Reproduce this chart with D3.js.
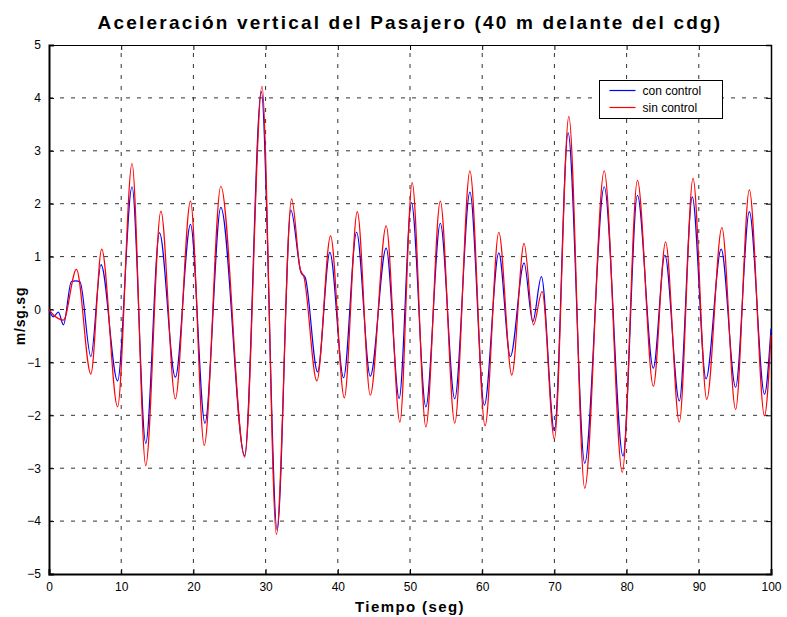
<!DOCTYPE html>
<html lang="es">
<head>
<meta charset="UTF-8">
<title>Aceleración vertical del Pasajero</title>
<script src="https://cdn.jsdelivr.net/npm/d3@7"></script>
<style>
  body { margin: 0; background: #fff; }
  text { font-family: "Liberation Sans", Arial, sans-serif; }
</style>
</head>
<body>
<div id="container"></div>
<script>
    const width = 787;
    const height = 617;
    const margin = { top: 45, left: 49, right: 16, bottom: 43 };

    // extremos: [tiempo (seg), aceleración (m/sg.sg)]
    const conControl = [
        [0, 0], [0.6, -0.14], [1.3, -0.05], [2.0, -0.29], [3.1, 0.53], [3.7, 0.54], [4.3, 0.52],
        [5.8, -0.89], [7.2, 0.85], [9.5, -1.35], [11.5, 2.32], [13.4, -2.53], [15.3, 1.45],
        [17.5, -1.28], [19.6, 1.61], [21.6, -2.15], [23.8, 1.93], [27.1, -2.76], [29.4, 4.12],
        [31.6, -4.17], [33.5, 1.88], [34.9, 0.7], [35.5, 0.6], [37.2, -1.18], [38.9, 1.08],
        [40.8, -1.29], [42.6, 1.46], [44.5, -1.26], [46.7, 1.16], [48.5, -1.68], [50.2, 2.02],
        [52.2, -1.84], [54.2, 1.63], [56.2, -1.69], [58.3, 2.22], [60.3, -1.81], [62.3, 1.07],
        [63.9, -0.89], [65.8, 0.88], [67.0, -0.23], [68.2, 0.62], [70.0, -2.29], [71.9, 3.34],
        [74.2, -2.91], [76.9, 2.32], [79.5, -2.77], [81.5, 2.16], [83.7, -1.11], [85.3, 1.03],
        [87.3, -1.73], [89.1, 2.13], [91.0, -1.31], [93.1, 1.14], [95.1, -1.47], [97.0, 1.85],
        [99.1, -1.60], [100, -0.36]
    ];
    const sinControl = [
        [0, 0], [0.6, -0.1], [2.0, -0.2], [3.8, 0.76], [5.8, -1.22], [7.3, 1.14], [9.5, -1.84],
        [11.5, 2.76], [13.4, -2.95], [15.5, 1.86], [17.5, -1.69], [19.6, 2.05], [21.5, -2.57],
        [23.8, 2.33], [27.1, -2.79], [29.5, 4.22], [31.5, -4.25], [33.6, 2.09], [34.8, 0.76],
        [35.3, 0.62], [37.1, -1.35], [39.0, 1.39], [40.9, -1.67], [42.7, 1.85], [44.5, -1.62],
        [46.7, 1.58], [48.6, -2.13], [50.3, 2.40], [52.2, -2.22], [54.2, 2.05], [56.2, -2.15],
        [58.3, 2.62], [60.4, -2.20], [62.3, 1.46], [64.1, -1.24], [65.8, 1.25], [67.1, -0.29],
        [68.3, 0.34], [70.0, -2.45], [72.0, 3.65], [74.2, -3.38], [76.9, 2.62], [79.4, -3.08],
        [81.5, 2.44], [83.7, -1.45], [85.4, 1.28], [87.3, -2.13], [89.2, 2.48], [91.1, -1.70],
        [93.2, 1.55], [95.1, -1.89], [97.0, 2.26], [99.1, -2.01], [100, -0.48]
    ];
    const xTicks = [0, 10, 20, 30, 40, 50, 60, 70, 80, 90, 100];
    const yTicks = [-5, -4, -3, -2, -1, 0, 1, 2, 3, 4, 5];
    const seriesNames = ['con control', 'sin control'];
    const seriesColors = ['#0000ff', '#ff0000'];

    const svg = d3.select('#container').append('svg')
        .attr('width', width)
        .attr('height', height);

    const x = d3.scaleLinear().domain([0, 100]).range([margin.left, width - margin.right]);
    const y = d3.scaleLinear().domain([-5, 5]).range([height - margin.bottom, margin.top]);

    // rejilla punteada
    svg.append('g')
        .selectAll('line')
        .data(yTicks.slice(1, -1))
        .join('line')
        .attr('x1', x(0)).attr('x2', x(100))
        .attr('y1', d => y(d)).attr('y2', d => y(d))
        .attr('stroke', '#333').attr('stroke-width', 1)
        .attr('stroke-dasharray', '4,7');
    svg.append('g')
        .selectAll('line')
        .data(xTicks.slice(1, -1))
        .join('line')
        .attr('y1', y(-5)).attr('y2', y(5))
        .attr('x1', d => x(d)).attr('x2', d => x(d))
        .attr('stroke', '#333').attr('stroke-width', 1)
        .attr('stroke-dasharray', '4,7');

    // ejes (ticks hacia dentro, estilo caja)
    const tick = 5;
    svg.append('g')
        .attr('transform', `translate(0,${y(-5)})`)
        .call(d3.axisBottom(x).tickValues(xTicks).tickSize(-tick).tickPadding(tick + 3))
        .call(g => g.select('.domain').attr('stroke-width', 2));
    svg.append('g')
        .attr('transform', `translate(0,${y(5)})`)
        .call(d3.axisTop(x).tickValues(xTicks).tickSize(-tick).tickFormat(''))
        .call(g => g.select('.domain').attr('stroke-width', 1));
    svg.append('g')
        .attr('transform', `translate(${x(0)},0)`)
        .call(d3.axisLeft(y).tickValues(yTicks).tickSize(-tick).tickPadding(tick + 3))
        .call(g => g.select('.domain').attr('stroke-width', 2));
    svg.append('g')
        .attr('transform', `translate(${x(100)},0)`)
        .call(d3.axisRight(y).tickValues(yTicks).tickSize(-tick).tickFormat(''))
        .call(g => g.select('.domain').attr('stroke-width', 1.5));

    svg.selectAll('.tick text')
        .attr('font-family', '"Liberation Sans", Arial, sans-serif')
        .attr('font-size', 12)
        .attr('fill', '#000');
    svg.selectAll('.domain').attr('stroke', '#000');

    // curvas
    const line = d3.line()
        .x(d => x(d[0]))
        .y(d => y(d[1]))
        .curve(d3.curveMonotoneX);

    [conControl, sinControl].forEach((serie, i) => {
        svg.append('path')
            .datum(serie)
            .attr('fill', 'none')
            .attr('stroke', seriesColors[i])
            .attr('stroke-width', 1.2)
            .attr('d', line);
    });

    // títulos
    svg.append('text')
        .attr('x', 410).attr('y', 29)
        .attr('text-anchor', 'middle')
        .attr('font-size', 19).attr('font-weight', 'bold')
        .attr('letter-spacing', 2.2)
        .text('Aceleración vertical del Pasajero (40 m delante del cdg)');
    svg.append('text')
        .attr('x', 410).attr('y', 612)
        .attr('text-anchor', 'middle')
        .attr('font-size', 15).attr('font-weight', 'bold')
        .attr('letter-spacing', 1.4)
        .text('Tiempo (seg)');
    svg.append('text')
        .attr('transform', `translate(25,316) rotate(-90)`)
        .attr('text-anchor', 'middle')
        .attr('font-size', 14).attr('font-weight', 'bold')
        .attr('letter-spacing', 0.8)
        .text('m/sg.sg');

    // leyenda
    const legend = svg.append('g').attr('transform', 'translate(599.5,80.5)');
    legend.append('rect')
        .attr('width', 123).attr('height', 38)
        .attr('fill', '#fff').attr('stroke', '#000').attr('stroke-width', 1);
    seriesNames.forEach((name, i) => {
        const row = legend.append('g').attr('transform', `translate(0,${10 + i * 17})`);
        row.append('line')
            .attr('x1', 10).attr('x2', 36)
            .attr('stroke', seriesColors[i]).attr('stroke-width', 1.2);
        row.append('text')
            .attr('x', 43).attr('y', 4)
            .attr('font-size', 12)
            .text(name);
    });
</script>
</body>
</html>
